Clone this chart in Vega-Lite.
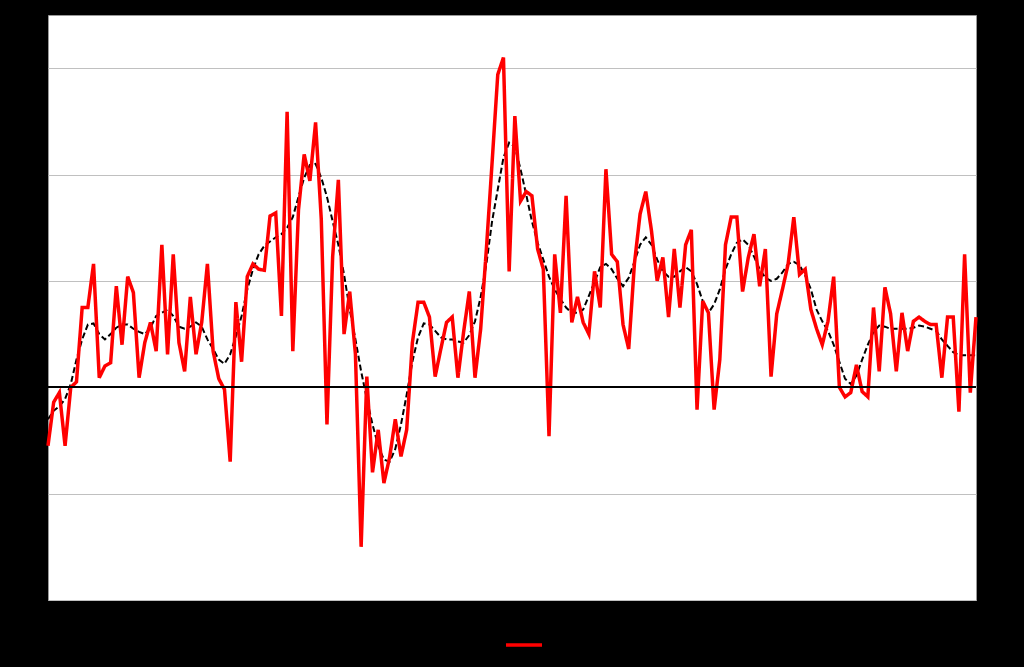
{
  "$schema": "https://vega.github.io/schema/vega-lite/v6.json",
  "width": 928,
  "height": 585,
  "autosize": {"type": "none"},
  "padding": {"left": 48, "top": 15, "right": 48, "bottom": 67},
  "background": "black",
  "config": {
    "view": {"fill": "white", "stroke": "#999999", "strokeWidth": 1},
    "font": "Liberation Sans",
    "axisY": {"grid": true, "gridColor": "#c0c0c0", "gridWidth": 1, "gridOpacity": 1, "domain": false, "ticks": false, "labelColor": "black", "title": null},
    "axisX": {"grid": false, "domain": false, "ticks": false, "labelColor": "black", "title": null}
  },
  "data": {
    "values": [
      {"i":1,"Monthly":-0.55,"Trend":-0.30},{"i":2,"Monthly":-0.14,"Trend":-0.22},{"i":3,"Monthly":-0.05,"Trend":-0.18},{"i":4,"Monthly":-0.55,"Trend":-0.11},
      {"i":5,"Monthly":0.00,"Trend":0.03},{"i":6,"Monthly":0.05,"Trend":0.26},{"i":7,"Monthly":0.75,"Trend":0.45},{"i":8,"Monthly":0.75,"Trend":0.59},
      {"i":9,"Monthly":1.16,"Trend":0.60},{"i":10,"Monthly":0.09,"Trend":0.50},{"i":11,"Monthly":0.20,"Trend":0.45},{"i":12,"Monthly":0.23,"Trend":0.50},
      {"i":13,"Monthly":0.95,"Trend":0.56},{"i":14,"Monthly":0.40,"Trend":0.59},{"i":15,"Monthly":1.04,"Trend":0.59},{"i":16,"Monthly":0.89,"Trend":0.55},
      {"i":17,"Monthly":0.09,"Trend":0.52},{"i":18,"Monthly":0.42,"Trend":0.50},{"i":19,"Monthly":0.61,"Trend":0.56},{"i":20,"Monthly":0.34,"Trend":0.67},
      {"i":21,"Monthly":1.34,"Trend":0.70},{"i":22,"Monthly":0.31,"Trend":0.73},{"i":23,"Monthly":1.25,"Trend":0.67},{"i":24,"Monthly":0.42,"Trend":0.57},
      {"i":25,"Monthly":0.15,"Trend":0.55},{"i":26,"Monthly":0.85,"Trend":0.57},{"i":27,"Monthly":0.31,"Trend":0.61},{"i":28,"Monthly":0.61,"Trend":0.57},
      {"i":29,"Monthly":1.16,"Trend":0.45},{"i":30,"Monthly":0.34,"Trend":0.36},{"i":31,"Monthly":0.08,"Trend":0.26},{"i":32,"Monthly":-0.02,"Trend":0.22},
      {"i":33,"Monthly":-0.70,"Trend":0.31},{"i":34,"Monthly":0.80,"Trend":0.48},{"i":35,"Monthly":0.24,"Trend":0.67},{"i":36,"Monthly":1.04,"Trend":0.92},
      {"i":37,"Monthly":1.16,"Trend":1.11},{"i":38,"Monthly":1.11,"Trend":1.25},{"i":39,"Monthly":1.10,"Trend":1.33},{"i":40,"Monthly":1.61,"Trend":1.37},
      {"i":41,"Monthly":1.64,"Trend":1.41},{"i":42,"Monthly":0.67,"Trend":1.44},{"i":43,"Monthly":2.59,"Trend":1.50},{"i":44,"Monthly":0.34,"Trend":1.60},
      {"i":45,"Monthly":1.67,"Trend":1.79},{"i":46,"Monthly":2.19,"Trend":1.97},{"i":47,"Monthly":1.94,"Trend":2.09},{"i":48,"Monthly":2.49,"Trend":2.10},
      {"i":49,"Monthly":1.58,"Trend":1.97},{"i":50,"Monthly":-0.35,"Trend":1.79},{"i":51,"Monthly":1.23,"Trend":1.56},{"i":52,"Monthly":1.95,"Trend":1.34},
      {"i":53,"Monthly":0.50,"Trend":1.06},{"i":54,"Monthly":0.90,"Trend":0.73},{"i":55,"Monthly":0.31,"Trend":0.45},{"i":56,"Monthly":-1.50,"Trend":0.15},
      {"i":57,"Monthly":0.10,"Trend":-0.11},{"i":58,"Monthly":-0.80,"Trend":-0.35},{"i":59,"Monthly":-0.40,"Trend":-0.55},{"i":60,"Monthly":-0.90,"Trend":-0.68},
      {"i":61,"Monthly":-0.66,"Trend":-0.70},{"i":62,"Monthly":-0.30,"Trend":-0.58},{"i":63,"Monthly":-0.65,"Trend":-0.35},{"i":64,"Monthly":-0.40,"Trend":-0.07},
      {"i":65,"Monthly":0.42,"Trend":0.24},{"i":66,"Monthly":0.80,"Trend":0.47},{"i":67,"Monthly":0.80,"Trend":0.60},{"i":68,"Monthly":0.66,"Trend":0.59},
      {"i":69,"Monthly":0.10,"Trend":0.53},{"i":70,"Monthly":0.36,"Trend":0.47},{"i":71,"Monthly":0.61,"Trend":0.45},{"i":72,"Monthly":0.66,"Trend":0.45},
      {"i":73,"Monthly":0.09,"Trend":0.43},{"i":74,"Monthly":0.52,"Trend":0.42},{"i":75,"Monthly":0.90,"Trend":0.49},{"i":76,"Monthly":0.09,"Trend":0.62},
      {"i":77,"Monthly":0.55,"Trend":0.85},{"i":78,"Monthly":1.30,"Trend":1.16},{"i":79,"Monthly":2.11,"Trend":1.56},{"i":80,"Monthly":2.94,"Trend":1.86},
      {"i":81,"Monthly":3.10,"Trend":2.16},{"i":82,"Monthly":1.09,"Trend":2.30},{"i":83,"Monthly":2.55,"Trend":2.26},{"i":84,"Monthly":1.75,"Trend":2.05},
      {"i":85,"Monthly":1.84,"Trend":1.81},{"i":86,"Monthly":1.80,"Trend":1.56},{"i":87,"Monthly":1.30,"Trend":1.36},{"i":88,"Monthly":1.11,"Trend":1.20},
      {"i":89,"Monthly":-0.46,"Trend":1.04},{"i":90,"Monthly":1.25,"Trend":0.92},{"i":91,"Monthly":0.70,"Trend":0.83},{"i":92,"Monthly":1.80,"Trend":0.75},
      {"i":93,"Monthly":0.61,"Trend":0.70},{"i":94,"Monthly":0.85,"Trend":0.70},{"i":95,"Monthly":0.61,"Trend":0.73},{"i":96,"Monthly":0.50,"Trend":0.86},
      {"i":97,"Monthly":1.09,"Trend":0.99},{"i":98,"Monthly":0.75,"Trend":1.13},{"i":99,"Monthly":2.05,"Trend":1.16},{"i":100,"Monthly":1.25,"Trend":1.11},
      {"i":101,"Monthly":1.18,"Trend":1.02},{"i":102,"Monthly":0.59,"Trend":0.95},{"i":103,"Monthly":0.36,"Trend":1.03},{"i":104,"Monthly":1.16,"Trend":1.18},
      {"i":105,"Monthly":1.63,"Trend":1.34},{"i":106,"Monthly":1.84,"Trend":1.41},{"i":107,"Monthly":1.47,"Trend":1.34},{"i":108,"Monthly":1.00,"Trend":1.20},
      {"i":109,"Monthly":1.22,"Trend":1.09},{"i":110,"Monthly":0.66,"Trend":1.04},{"i":111,"Monthly":1.30,"Trend":1.04},{"i":112,"Monthly":0.75,"Trend":1.09},
      {"i":113,"Monthly":1.34,"Trend":1.13},{"i":114,"Monthly":1.48,"Trend":1.09},{"i":115,"Monthly":-0.21,"Trend":0.97},{"i":116,"Monthly":0.81,"Trend":0.81},
      {"i":117,"Monthly":0.70,"Trend":0.70},{"i":118,"Monthly":-0.21,"Trend":0.78},{"i":119,"Monthly":0.26,"Trend":0.92},{"i":120,"Monthly":1.34,"Trend":1.11},
      {"i":121,"Monthly":1.60,"Trend":1.25},{"i":122,"Monthly":1.60,"Trend":1.36},{"i":123,"Monthly":0.90,"Trend":1.39},{"i":124,"Monthly":1.22,"Trend":1.34},
      {"i":125,"Monthly":1.44,"Trend":1.23},{"i":126,"Monthly":0.95,"Trend":1.11},{"i":127,"Monthly":1.30,"Trend":1.03},{"i":128,"Monthly":0.10,"Trend":1.00},
      {"i":129,"Monthly":0.69,"Trend":1.02},{"i":130,"Monthly":0.92,"Trend":1.08},{"i":131,"Monthly":1.16,"Trend":1.16},{"i":132,"Monthly":1.60,"Trend":1.18},
      {"i":133,"Monthly":1.06,"Trend":1.15},{"i":134,"Monthly":1.11,"Trend":1.05},{"i":135,"Monthly":0.73,"Trend":0.92},{"i":136,"Monthly":0.55,"Trend":0.73},
      {"i":137,"Monthly":0.40,"Trend":0.62},{"i":138,"Monthly":0.62,"Trend":0.53},{"i":139,"Monthly":1.04,"Trend":0.40},{"i":140,"Monthly":0.00,"Trend":0.24},
      {"i":141,"Monthly":-0.09,"Trend":0.08},{"i":142,"Monthly":-0.05,"Trend":0.03},{"i":143,"Monthly":0.21,"Trend":0.11},{"i":144,"Monthly":-0.04,"Trend":0.26},
      {"i":145,"Monthly":-0.09,"Trend":0.40},{"i":146,"Monthly":0.75,"Trend":0.52},{"i":147,"Monthly":0.15,"Trend":0.58},{"i":148,"Monthly":0.94,"Trend":0.57},
      {"i":149,"Monthly":0.69,"Trend":0.55},{"i":150,"Monthly":0.15,"Trend":0.55},{"i":151,"Monthly":0.70,"Trend":0.55},{"i":152,"Monthly":0.34,"Trend":0.55},
      {"i":153,"Monthly":0.62,"Trend":0.56},{"i":154,"Monthly":0.66,"Trend":0.58},{"i":155,"Monthly":0.62,"Trend":0.57},{"i":156,"Monthly":0.59,"Trend":0.55},
      {"i":157,"Monthly":0.59,"Trend":0.53},{"i":158,"Monthly":0.09,"Trend":0.45},{"i":159,"Monthly":0.66,"Trend":0.39},{"i":160,"Monthly":0.66,"Trend":0.33},
      {"i":161,"Monthly":-0.23,"Trend":0.30},{"i":162,"Monthly":1.25,"Trend":0.30},{"i":163,"Monthly":-0.05,"Trend":0.30},{"i":164,"Monthly":0.66,"Trend":0.30}
    ]
  },
  "encoding": {
    "y": {
      "type": "quantitative",
      "scale": {"domain": [-2, 3.5], "nice": false},
      "axis": {"values": [-2, -1, 0, 1, 2, 3], "grid": true, "gridColor": "#c0c0c0", "title": null}
    }
  },
  "layer": [
    {
      "transform": [{"fold": ["Trend", "Monthly"], "as": ["series", "value"]}],
      "mark": {"type": "line", "strokeJoin": "miter", "strokeMiterLimit": 4},
      "encoding": {
        "x": {
          "field": "i", "type": "quantitative",
          "scale": {"domain": [1, 164], "nice": false, "zero": false},
          "axis": {"grid": false, "title": null, "ticks": false, "domain": false}
        },
        "y": {
          "field": "value", "type": "quantitative",
          "scale": {"domain": [-2, 3.5], "nice": false},
          "axis": {"values": [-2, -1, 0, 1, 2, 3], "grid": true, "gridColor": "#c0c0c0", "title": null}
        },
        "color": {
          "field": "series", "type": "nominal",
          "scale": {"domain": ["Trend", "Monthly"], "range": ["black", "#ff0000"]},
          "legend": {
            "orient": "none", "legendX": 355, "legendY": 610, "direction": "horizontal",
            "title": null, "symbolType": "stroke", "symbolSize": 1296, "symbolStrokeWidth": 4.5,
            "labelColor": "black", "labelFontSize": 13, "columnPadding": 20
          }
        },
        "strokeDash": {
          "field": "series", "type": "nominal",
          "scale": {"domain": ["Trend", "Monthly"], "range": [[6, 3], [1, 0]]},
          "legend": null
        },
        "strokeWidth": {
          "field": "series", "type": "nominal",
          "scale": {"domain": ["Trend", "Monthly"], "range": [2, 3.5]},
          "legend": null
        },
        "order": {"field": "i", "type": "quantitative"}
      }
    },
    {
      "mark": {"type": "rule", "color": "black", "strokeWidth": 1.5},
      "encoding": {"y": {"datum": 0, "type": "quantitative"}}
    }
  ]
}
